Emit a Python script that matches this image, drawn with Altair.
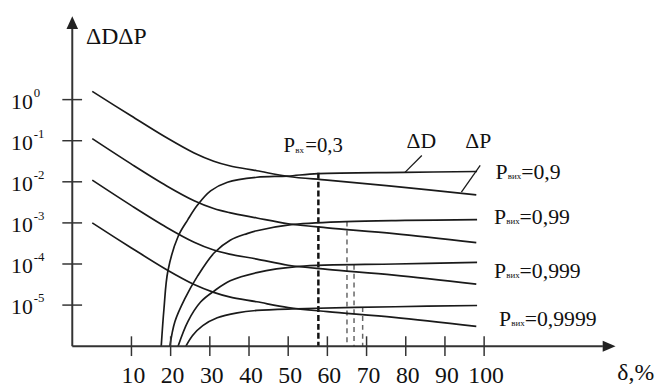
import altair as alt
import pandas as pd

# ---- values (x = delta, %, y = log10 of the value) ----
dec_x = [0, 10, 19, 26, 31, 35, 42, 50, 60, 77, 98]
dec1 = [0.20, -0.40, -0.93, -1.30, -1.50, -1.61, -1.73, -1.87, -1.96, -2.11, -2.32]
dec2 = [-0.95, -1.57, -2.10, -2.46, -2.65, -2.75, -2.88, -3.02, -3.12, -3.26, -3.48]
dec3 = [-1.96, -2.58, -3.11, -3.47, -3.66, -3.76, -3.88, -4.03, -4.13, -4.27, -4.49]
dec4 = [-3.00, -3.61, -4.14, -4.50, -4.69, -4.80, -4.92, -5.06, -5.16, -5.30, -5.52]

inc1_x = [17.6, 18.3, 19.3, 21.9, 24.4, 26.9, 30.2, 34.5, 42.0, 49.8, 57.6, 79.8, 98.2]
inc1 = [-6, -5.09, -4.17, -3.33, -2.92, -2.56, -2.22, -2.01, -1.89, -1.86, -1.80, -1.77, -1.75]
inc2_x = [19.8, 21.1, 23.6, 26.9, 31.2, 35.2, 39.5, 42.0, 50.3, 64.7, 79.8, 98.2]
inc2 = [-6, -5.40, -4.85, -4.29, -3.72, -3.42, -3.26, -3.19, -3.05, -2.97, -2.94, -2.92]
inc3_x = [21.9, 24.4, 27.7, 31.2, 35.2, 42.0, 52.8, 77.3, 98.2]
inc3 = [-6, -5.40, -4.92, -4.65, -4.41, -4.21, -4.06, -4.00, -3.96]
inc4_x = [23.9, 25.6, 28.2, 31.9, 37.0, 42.0, 52.1, 77.3, 98.2]
inc4 = [-6, -5.74, -5.50, -5.31, -5.19, -5.13, -5.09, -5.04, -5.01]

# dashed verticals: delta position and log10 of the top end
dash_x = [57.7, 65.0, 66.8, 69.0]
dash_top = [-1.78, -2.97, -4.02, -5.05]

# axis ticks / labels
x_ticks = [10, 20, 30, 40, 50, 60, 70, 80, 90, 100]
y_ticks = [0, -1, -2, -3, -4, -5]
y_exp = ["0", "-1", "-2", "-3", "-4", "-5"]

# right-hand labels
lab_x = [102.9, 102.5, 102.5, 103.8]
lab_y = [-1.77, -2.85, -4.17, -5.33]
lab_sub = ["вих", "вих", "вих", "вих"]
lab_rest = ["=0,9", "=0,99", "=0,999", "=0,9999"]

FONT = "Times New Roman, Liberation Serif, serif"
INK = "#1a1a1a"
TXT = "#111111"
AX = -5.1  # delta value at which the vertical axis is drawn

# ---- tables ----
rows = []
for name, xs_, ys_ in [("ΔP1", dec_x, dec1), ("ΔP2", dec_x, dec2), ("ΔP3", dec_x, dec3),
                       ("ΔP4", dec_x, dec4), ("ΔD1", inc1_x, inc1), ("ΔD2", inc2_x, inc2),
                       ("ΔD3", inc3_x, inc3), ("ΔD4", inc4_x, inc4)]:
    for a, b in zip(xs_, ys_):
        rows.append({"series": name, "x": a, "y": 10 ** b})
curves = pd.DataFrame(rows)

dashes = pd.DataFrame({"x": dash_x, "y": [10 ** t for t in dash_top], "y2": [1e-6] * 4})

xs = alt.Scale(domain=[0, 100], range=[85.3, 482.0], nice=False, zero=False)
ys = alt.Scale(type="log", domain=[1e-6, 1e2], range=[340.0, 7.2], nice=False)
X = alt.X("x:Q", scale=xs, axis=None)
Y = alt.Y("y:Q", scale=ys, axis=None)

lines = alt.Chart(curves).mark_line(interpolate="catmull-rom", color=INK, strokeWidth=1.7).encode(
    X, Y, detail="series:N")

dash_main = alt.Chart(dashes.iloc[:1]).mark_rule(color="#111", strokeWidth=2.5, strokeDash=[6, 3]).encode(
    X, Y, y2="y2:Q")
dash_rest = alt.Chart(dashes.iloc[1:]).mark_rule(color="#666", strokeWidth=1.5, strokeDash=[5, 4]).encode(
    X, Y, y2="y2:Q")

axes_df = pd.DataFrame({"x": [AX, AX], "y": [1e-6, 1e-6], "x2": [AX, 130.3], "y2": [10 ** 1.72, 1e-6]})
axes = alt.Chart(axes_df).mark_rule(color="#333", strokeWidth=2).encode(X, Y, x2="x2:Q", y2="y2:Q")

up = alt.Chart(pd.DataFrame({"x": [AX], "y": [10 ** 1.873]})).mark_point(
    shape="M0,-1L0.9,1L-0.9,1Z", size=169, filled=True, color="#222", opacity=1).encode(X, Y)
right = alt.Chart(pd.DataFrame({"x": [131.9], "y": [1e-6]})).mark_point(
    shape="M1,0L-1,0.85L-1,-0.85Z", size=169, filled=True, color="#222", opacity=1).encode(X, Y)

xt_df = pd.DataFrame({"x": x_ticks, "y": [10 ** -5.76] * 10, "y2": [10 ** -6.24] * 10})
xticks = alt.Chart(xt_df).mark_rule(color="#333", strokeWidth=1.5).encode(X, Y, y2="y2:Q")
xlabels = alt.Chart(pd.DataFrame({"x": x_ticks, "y": [1e-6] * 10, "label": [str(t) for t in x_ticks]})).mark_text(
    font=FONT, fontSize=24, color=TXT, dy=30, dx=2, baseline="middle").encode(X, Y, text="label:N")

yt_df = pd.DataFrame({"x": [-7.64] * 6, "x2": [-2.6] * 6, "y": [10.0 ** t for t in y_ticks],
                      "exp": y_exp, "base": ["10"] * 6})
yticks = alt.Chart(yt_df).mark_rule(color="#333", strokeWidth=1.5).encode(X, Y, x2="x2:Q")
ybase = alt.Chart(yt_df.assign(x=AX)).mark_text(font=FONT, fontSize=22, color=TXT, align="right",
                                               baseline="middle", dx=-40, dy=2).encode(X, Y, text="base:N")
yexp = alt.Chart(yt_df.assign(x=AX)).mark_text(font=FONT, fontSize=13, color=TXT, align="left",
                                              baseline="middle", dx=-39, dy=-7).encode(X, Y, text="exp:N")

lab_df = pd.DataFrame({"x": lab_x, "y": [10 ** v for v in lab_y], "sub": lab_sub, "rest": lab_rest,
                       "p": ["P"] * 4})
lab_p = alt.Chart(lab_df).mark_text(font=FONT, fontSize=22, color=TXT, align="left",
                                    baseline="middle").encode(X, Y, text="p:N")
lab_s = alt.Chart(lab_df).mark_text(font=FONT, fontSize=9, color=TXT, align="left",
                                    baseline="alphabetic", dx=12.5, dy=7).encode(X, Y, text="sub:N")
lab_r = alt.Chart(lab_df).mark_text(font=FONT, fontSize=22, color=TXT, align="left",
                                    baseline="middle", dx=26).encode(X, Y, text="rest:N")

pin_df = pd.DataFrame({"x": [48.8], "y": [10 ** -1.12], "p": ["P"], "sub": ["вх"], "rest": ["=0,3"]})
pin_p = alt.Chart(pin_df).mark_text(font=FONT, fontSize=21, color=TXT, align="left",
                                    baseline="middle").encode(X, Y, text="p:N")
pin_s = alt.Chart(pin_df).mark_text(font=FONT, fontSize=9, color=TXT, align="left",
                                    baseline="alphabetic", dx=12, dy=7).encode(X, Y, text="sub:N")
pin_r = alt.Chart(pin_df).mark_text(font=FONT, fontSize=21, color=TXT, align="left",
                                    baseline="middle", dx=22).encode(X, Y, text="rest:N")

dd_df = pd.DataFrame({"x": [84.0, 98.5], "y": [10 ** -1.0] * 2, "t": ["ΔD", "ΔP"]})
dd_text = alt.Chart(dd_df).mark_text(font=FONT, fontSize=22, color=TXT, align="center",
                                     baseline="middle").encode(X, Y, text="t:N")
lead_df = pd.DataFrame({"x": [84.1, 99.0], "y": [10 ** -1.36, 10 ** -1.60],
                        "x2": [79.8, 94.2], "y2": [10 ** -1.77, 10 ** -2.25]})
leads = alt.Chart(lead_df).mark_rule(color=INK, strokeWidth=1.3).encode(X, Y, x2="x2:Q", y2="y2:Q")

title_df = pd.DataFrame({"x": [-1.6], "y": [10 ** 1.52], "t": ["ΔDΔP"]})
ytitle = alt.Chart(title_df).mark_text(font=FONT, fontSize=24, color=TXT, align="left",
                                       baseline="middle").encode(X, Y, text="t:N")
xt_title = alt.Chart(pd.DataFrame({"x": [143.4], "y": [1e-6], "t": ["δ,%"]})).mark_text(
    font=FONT, fontSize=24, color=TXT, align="right", baseline="middle", dy=27).encode(X, Y, text="t:N")

chart = alt.layer(
    dash_main, dash_rest, lines, axes, up, right, xticks, yticks, xlabels, ybase, yexp,
    lab_p, lab_s, lab_r, pin_p, pin_s, pin_r, dd_text, leads, ytitle, xt_title
).properties(
    width=657, height=381, autosize=alt.AutoSizeParams(type="none"), padding=0, background="white"
).configure_view(stroke=None)

chart.save("out.html", embed_options={"renderer": "svg", "actions": False})
